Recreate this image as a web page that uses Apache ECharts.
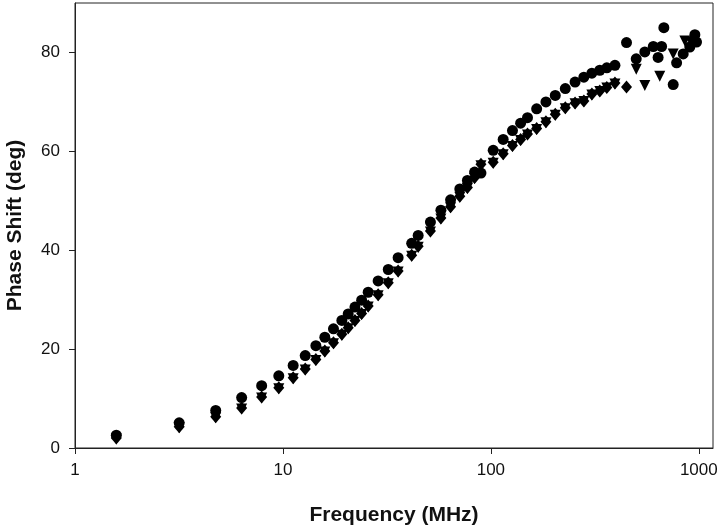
<!DOCTYPE html>
<html>
<head>
<meta charset="utf-8">
<script src="https://cdn.jsdelivr.net/npm/echarts@6/dist/echarts.min.js"></script>
<style>html,body{margin:0;padding:0;background:#fff;}#c{width:720px;height:527px;}</style>
</head>
<body>
<div id="c"></div>
<script>
// Frequency (MHz) and phase shift (deg) readings
const circleFreq = [1.58, 3.17, 4.75, 6.33, 7.9, 9.55, 11.2, 12.8, 14.4, 15.9, 17.5, 19.2, 20.6, 22.2, 23.9, 25.7, 28.7, 32.1, 35.8, 41.6, 44.7, 51.2, 57.5, 64.0, 70.9, 77.1, 83.5, 89.6, 102.6, 114.6, 127, 139, 150, 166, 184, 204, 228, 254, 280, 306, 334, 361, 395, 449, 500, 550, 604, 637, 662, 679, 753, 782, 841, 905, 957, 975];
const circlePhase = [2.6, 5.1, 7.6, 10.2, 12.6, 14.6, 16.7, 18.7, 20.7, 22.4, 24.1, 25.8, 27.1, 28.5, 29.9, 31.5, 33.8, 36.1, 38.5, 41.4, 43.0, 45.7, 48.1, 50.2, 52.4, 54.1, 55.8, 55.6, 60.2, 62.4, 64.2, 65.7, 66.8, 68.6, 70.0, 71.3, 72.7, 74.0, 75.0, 75.8, 76.4, 76.9, 77.4, 82.0, 78.7, 80.1, 81.2, 79.0, 81.2, 85.0, 73.5, 77.9, 79.7, 81.1, 83.6, 82.1];

const diamondFreq = [1.58, 3.17, 4.75, 6.33, 7.9, 9.55, 11.2, 12.8, 14.4, 15.9, 17.5, 19.2, 20.6, 22.2, 23.9, 25.7, 28.7, 32.1, 35.8, 41.6, 44.7, 51.2, 57.5, 64.0, 70.9, 77.1, 83.5, 89.6, 102.6, 114.6, 127, 139, 150, 166, 184, 204, 228, 254, 280, 306, 334, 361, 395, 449];
const diamondPhase = [2.0, 4.3, 6.3, 8.1, 10.3, 12.2, 14.2, 16.0, 17.9, 19.6, 21.3, 23.0, 24.3, 25.8, 27.2, 28.7, 31.0, 33.4, 35.8, 39.0, 40.8, 43.9, 46.5, 48.8, 50.9, 52.7, 54.7, 57.4, 57.8, 59.5, 61.2, 62.4, 63.5, 64.6, 66.0, 67.5, 68.8, 69.8, 70.2, 71.6, 72.2, 72.9, 73.8, 73.0];

const triangleFreq = [1.58, 3.17, 4.75, 6.33, 7.9, 9.55, 11.2, 12.8, 14.4, 15.9, 17.5, 19.2, 20.6, 22.2, 23.9, 25.7, 28.7, 32.1, 35.8, 41.6, 44.7, 51.2, 57.5, 64.0, 70.9, 77.1, 83.5, 89.6, 102.6, 114.6, 127, 139, 150, 166, 184, 204, 228, 254, 280, 306, 334, 361, 395, 500, 550, 649, 753, 857, 920];
const trianglePhase = [1.8, 4.1, 6.1, 7.9, 10.1, 12.0, 14.0, 15.8, 17.7, 19.4, 21.1, 22.8, 24.1, 25.6, 27.0, 28.5, 30.8, 33.2, 35.6, 38.8, 40.6, 43.7, 46.3, 48.6, 50.7, 52.5, 54.5, 57.1, 57.6, 59.3, 61.0, 62.2, 63.3, 64.4, 65.8, 67.3, 68.6, 69.6, 70.1, 71.4, 72.1, 72.8, 73.6, 76.6, 73.3, 75.2, 79.7, 82.3, 82.0];

const xTicks = [1, 10, 100, 1000];
const yTicks = [0, 20, 40, 60, 80];

const pairs = (xs, ys) => xs.map((x, i) => [x, ys[i]]);

const chart = echarts.init(document.getElementById('c'), null, {renderer: 'canvas'});
const font = 'Liberation Sans, Arial, sans-serif';
chart.setOption({
  animation: false,
  backgroundColor: '#fff',
  grid: {left: 75, right: 7, top: 3, bottom: 79, show: true, borderColor: '#222', borderWidth: 1,
         containLabel: false, outerBoundsMode: 'none'},
  xAxis: {
    type: 'log', logBase: 10, min: 1, max: 1170,
    name: 'Frequency (MHz)', nameLocation: 'middle', nameGap: 57,
    nameTextStyle: {fontFamily: font, fontWeight: 'bold', fontSize: 21, color: '#111'},
    axisLine: {show: true, lineStyle: {color: '#222', width: 1}},
    axisTick: {show: true, length: 6, inside: false, lineStyle: {color: '#222'}, customValues: xTicks},
    axisLabel: {fontFamily: font, fontSize: 17, color: '#111', margin: 14, customValues: xTicks,
      formatter: v => String(Math.round(v))},
    splitLine: {show: false}, minorTick: {show: false}
  },
  yAxis: {
    type: 'value', min: 0, max: 90,
    name: 'Phase Shift (deg)', nameLocation: 'middle', nameGap: 49, nameRotate: 90,
    nameTextStyle: {fontFamily: font, fontWeight: 'bold', fontSize: 21, color: '#111'},
    axisLine: {show: true, lineStyle: {color: '#222', width: 1}},
    axisTick: {show: true, length: 6, inside: false, lineStyle: {color: '#222'}, customValues: yTicks},
    axisLabel: {fontFamily: font, fontSize: 17, color: '#111', margin: 15, customValues: yTicks},
    splitLine: {show: false}
  },
  series: [
    {type: 'scatter', name: 'triangle', symbol: 'triangle', symbolRotate: 180, symbolSize: [11, 11],
     itemStyle: {color: '#000', opacity: 1}, data: pairs(triangleFreq, trianglePhase)},
    {type: 'scatter', name: 'diamond', symbol: 'diamond', symbolSize: [11, 13],
     itemStyle: {color: '#000', opacity: 1}, data: pairs(diamondFreq, diamondPhase)},
    {type: 'scatter', name: 'circle', symbol: 'circle', symbolSize: 11,
     itemStyle: {color: '#000', opacity: 1}, data: pairs(circleFreq, circlePhase)}
  ]
});
</script>
</body>
</html>
